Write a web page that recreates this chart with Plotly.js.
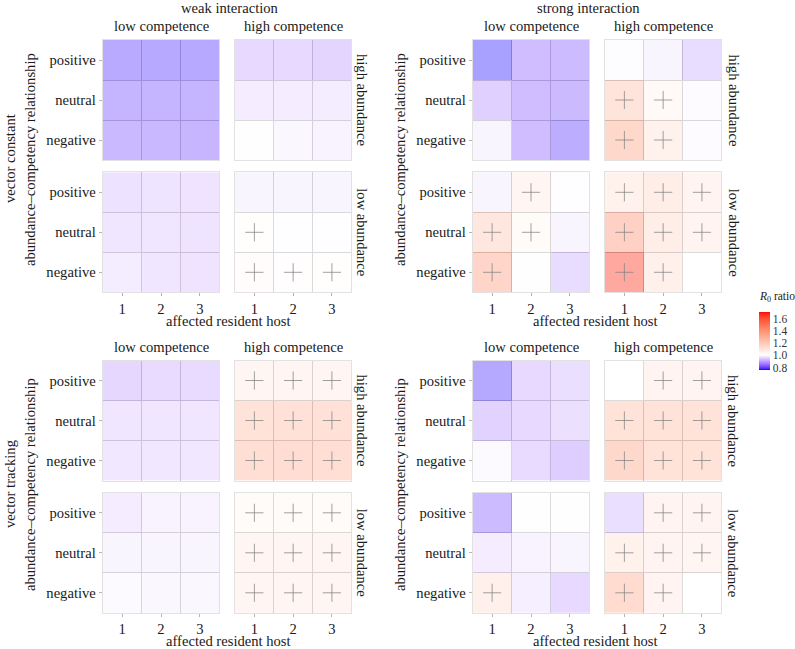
<!DOCTYPE html>
<html>
<head>
<meta charset="utf-8">
<script src="https://cdn.plot.ly/plotly-3.0.1.min.js"></script>
<style>html,body{margin:0;padding:0;background:#fff;}#chart{width:795px;height:649px;}</style>
</head>
<body>
<div id="chart"></div>
<script>
// ---------------- data ----------------
const hosts = [1, 2, 3];
const relationships = ['positive', 'neutral', 'negative'];
const competence = ['low competence', 'high competence'];
const abundance = ['high abundance', 'low abundance'];
const interactions = ['weak interaction', 'strong interaction'];
const vectorModes = ['vector constant', 'vector tracking'];
const yTitleText = 'abundance\u2013competency relationship';
const xTitleText = 'affected resident host';
const colorTicks = [0.8, 1.0, 1.2, 1.4, 1.6];

// rows: positive, neutral, negative ; columns: host 1, 2, 3
const weakConstantLowHigh  = [[0.780, 0.778, 0.778], [0.803, 0.803, 0.803], [0.815, 0.810, 0.807]];
const weakConstantHighHigh = [[0.900, 0.900, 0.890], [0.955, 0.955, 0.950], [0.998, 0.980, 0.970]];
const weakConstantLowLow   = [[0.925, 0.930, 0.928], [0.935, 0.935, 0.930], [0.950, 0.935, 0.928]];
const weakConstantHighLow  = [[0.975, 0.975, 0.975], [1.010, 0.996, 0.996], [1.030, 1.015, 1.010]];

const strongConstantLowHigh  = [[0.765, 0.825, 0.820], [0.875, 0.825, 0.818], [0.975, 0.825, 0.785]];
const strongConstantHighHigh = [[0.992, 0.975, 0.910], [1.250, 1.050, 0.990], [1.360, 1.120, 0.990]];
const strongConstantLowLow   = [[0.975, 1.080, 0.995], [1.220, 1.040, 0.975], [1.380, 0.998, 0.910]];
const strongConstantHighLow  = [[1.120, 1.170, 1.100], [1.420, 1.170, 1.100], [1.680, 1.140, 0.999]];

const weakTrackingLowHigh  = [[0.895, 0.905, 0.905], [0.935, 0.935, 0.935], [0.940, 0.940, 0.940]];
const weakTrackingHighHigh = [[1.080, 1.080, 1.080], [1.270, 1.280, 1.280], [1.300, 1.310, 1.300]];
const weakTrackingLowLow   = [[0.955, 0.970, 0.970], [0.975, 0.975, 0.975], [0.985, 0.980, 0.980]];
const weakTrackingHighLow  = [[1.040, 1.040, 1.040], [1.090, 1.090, 1.090], [1.090, 1.090, 1.090]];

const strongTrackingLowHigh  = [[0.775, 0.900, 0.915], [0.880, 0.900, 0.920], [0.985, 0.905, 0.870]];
const strongTrackingHighHigh = [[0.999, 1.100, 1.100], [1.270, 1.270, 1.270], [1.360, 1.270, 1.270]];
const strongTrackingLowLow   = [[0.820, 0.998, 0.998], [0.955, 0.970, 0.975], [1.140, 0.960, 0.900]];
const strongTrackingHighLow  = [[0.915, 1.100, 1.100], [1.120, 1.100, 1.090], [1.330, 1.100, 0.999]];

// panels[vectorMode][interaction][abundanceRow][competenceCol]
const panels = [
  [ [[weakConstantLowHigh, weakConstantHighHigh], [weakConstantLowLow, weakConstantHighLow]],
    [[strongConstantLowHigh, strongConstantHighHigh], [strongConstantLowLow, strongConstantHighLow]] ],
  [ [[weakTrackingLowHigh, weakTrackingHighHigh], [weakTrackingLowLow, weakTrackingHighLow]],
    [[strongTrackingLowHigh, strongTrackingHighHigh], [strongTrackingLowLow, strongTrackingHighLow]] ]
];
const allValues = panels.flat(3).flat(2);

// ---------------- colour scale limits (white at 1) ----------------
const scaleMin = 0.755, scaleMid = 1.0, scaleMax = 1.71;

// ---------------- Lab colour interpolation (like ggplot gradient2) ----------------
const Xn = 0.95047, Yn = 1.0, Zn = 1.08883;
function s2l(c) { c /= 255; return c <= 0.04045 ? c / 12.92 : Math.pow((c + 0.055) / 1.055, 2.4); }
function l2s(c) { c = Math.max(0, Math.min(1, c)); return c <= 0.0031308 ? 12.92 * c : 1.055 * Math.pow(c, 1 / 2.4) - 0.055; }
function ff(t) { return t > 0.008856 ? Math.cbrt(t) : 7.787 * t + 16 / 116; }
function fi(t) { return t > 0.206893 ? t * t * t : (t - 16 / 116) / 7.787; }
function rgb2lab(rgb) {
  const [r, g, b] = rgb.map(s2l);
  const X = 0.4124 * r + 0.3576 * g + 0.1805 * b;
  const Y = 0.2126 * r + 0.7152 * g + 0.0722 * b;
  const Z = 0.0193 * r + 0.1192 * g + 0.9505 * b;
  const fx = ff(X / Xn), fy = ff(Y / Yn), fz = ff(Z / Zn);
  return [116 * fy - 16, 500 * (fx - fy), 200 * (fy - fz)];
}
function lab2rgb(lab) {
  const [L, a, b] = lab;
  const fy = (L + 16) / 116, fx = fy + a / 500, fz = fy - b / 200;
  const X = Xn * fi(fx), Y = Yn * fi(fy), Z = Zn * fi(fz);
  const r = 3.2406 * X - 1.5372 * Y - 0.4986 * Z;
  const g = -0.9689 * X + 1.8758 * Y + 0.0415 * Z;
  const bb = 0.0557 * X - 0.2040 * Y + 1.0570 * Z;
  return [r, g, bb].map(c => Math.round(255 * l2s(c)));
}
const labLow = rgb2lab([0, 0, 255]), labMid = rgb2lab([255, 255, 255]), labHigh = rgb2lab([255, 0, 0]);
function mix(a, b, t) { return a.map((v, i) => v + (b[i] - v) * t); }
function rgbAt(v) {
  let lab;
  if (v <= scaleMid) lab = mix(labMid, labLow, (scaleMid - v) / (scaleMid - scaleMin));
  else lab = mix(labMid, labHigh, (v - scaleMid) / (scaleMax - scaleMid));
  return lab2rgb(lab);
}
const TILE_ALPHA = 0.4;
const nStops = 60;
const midPos = (scaleMid - scaleMin) / (scaleMax - scaleMin);
const positions = [];
for (let i = 0; i <= nStops; i++) positions.push(i / nStops);
positions.push(midPos);
positions.sort((a, b) => a - b);
// solid scale for the colour bar, translucent scale for the tiles
const solidScale = positions.map(p => [p, 'rgb(' + rgbAt(scaleMin + p * (scaleMax - scaleMin)).join(',') + ')']);
const tileScale = positions.map(p => [p, 'rgba(' + rgbAt(scaleMin + p * (scaleMax - scaleMin)).join(',') + ',' + TILE_ALPHA + ')']);

// ---------------- geometry (pixels) ----------------
const W = 795, H = 649;
const px = x => x / W;
const py = y => 1 - y / H;
const facetX = [[102.7, 219.3], [235, 351.3]];
const facetY = [[40, 160], [172.3, 292.3]];
const panelOffX = [0, 370];
const panelOffY = [0, 320.5];

const FONT = 'Liberation Serif, DejaVu Serif, serif';
const FS = 14.6;
const TXT = '#1a1a1a';

const yPos = relationships.map((_, i) => relationships.length - i);
const xBounds = hosts.slice(1).map((h, i) => (hosts[i] + h) / 2);
const yBounds = yPos.slice(1).map((y, i) => (yPos[i] + y) / 2);

const traces = [];
const layout = {
  width: W, height: H,
  margin: {l: 0, r: 0, t: 0, b: 0},
  paper_bgcolor: '#ffffff', plot_bgcolor: '#ffffff',
  font: {family: FONT, size: FS, color: TXT},
  showlegend: false,
  annotations: []
};

let n = 0;
for (let vm = 0; vm < 2; vm++) {
  for (let it = 0; it < 2; it++) {
    for (let ab = 0; ab < 2; ab++) {
      for (let cp = 0; cp < 2; cp++) {
        n++;
        const xa = 'x' + (n === 1 ? '' : n), ya = 'y' + (n === 1 ? '' : n);
        const xk = 'xaxis' + (n === 1 ? '' : n), yk = 'yaxis' + (n === 1 ? '' : n);
        const z = panels[vm][it][ab][cp];
        const x0 = facetX[cp][0] + panelOffX[it], x1 = facetX[cp][1] + panelOffX[it];
        const y0 = facetY[ab][0] + panelOffY[vm], y1 = facetY[ab][1] + panelOffY[vm];
        const showX = ab === 1, showY = cp === 0;
        layout[xk] = {
          domain: [px(x0), px(x1)], anchor: ya, range: [0.5, 3.5],
          tickmode: 'array', tickvals: hosts, ticktext: hosts.map(String),
          showticklabels: showX, ticks: showX ? 'outside' : '', ticklen: 3, tickwidth: 1, tickcolor: '#b5b5b5',
          tickfont: {family: FONT, size: FS, color: TXT},
          showgrid: false, zeroline: false,
          showline: true, mirror: true, linecolor: '#e2e2e2', linewidth: 1,
          minor: {tickmode: 'array', tickvals: xBounds, showgrid: true, gridcolor: '#c4c4c4', gridwidth: 1, ticks: ''},
          fixedrange: true
        };
        layout[yk] = {
          domain: [py(y1), py(y0)], anchor: xa, range: [0.5, 3.5],
          tickmode: 'array', tickvals: yPos, ticktext: relationships,
          showticklabels: showY, ticks: showY ? 'outside' : '', ticklen: 3, tickwidth: 1, tickcolor: '#b5b5b5',
          tickfont: {family: FONT, size: FS, color: TXT},
          showgrid: false, zeroline: false,
          showline: true, mirror: true, linecolor: '#e2e2e2', linewidth: 1,
          minor: {tickmode: 'array', tickvals: yBounds, showgrid: true, gridcolor: '#c4c4c4', gridwidth: 1, ticks: ''},
          fixedrange: true
        };
        traces.push({
          type: 'heatmap', xaxis: xa, yaxis: ya,
          x: hosts, y: yPos, z: z,
          zmin: scaleMin, zmax: scaleMax, colorscale: tileScale,
          hoverinfo: 'skip', showscale: false
        });
        // plus markers for R0 ratio above 1
        const pxs = [], pys = [];
        z.forEach((row, i) => row.forEach((v, j) => { if (v > scaleMid) { pxs.push(hosts[j]); pys.push(yPos[i]); } }));
        if (pxs.length) {
          traces.push({
            type: 'scatter', mode: 'markers', xaxis: xa, yaxis: ya, x: pxs, y: pys,
            marker: {symbol: 'cross-thin-open', size: 13, color: 'rgba(130,130,130,0.75)', line: {width: 1, color: 'rgba(130,130,130,0.75)'}},
            hoverinfo: 'skip'
          });
        }
        // competence strip (top of high-abundance row)
        if (ab === 0) {
          layout.annotations.push({
            xref: 'paper', yref: 'paper', x: px((x0 + x1) / 2), y: py(26.5 + panelOffY[vm]),
            xanchor: 'center', yanchor: 'middle', showarrow: false,
            text: competence[cp], font: {family: FONT, size: FS, color: TXT}
          });
        }
        // abundance strip (right)
        if (cp === 1) {
          layout.annotations.push({
            xref: 'paper', yref: 'paper', x: px(it === 0 ? 362 : 733.5), y: py((y0 + y1) / 2),
            xanchor: 'center', yanchor: 'middle', showarrow: false, textangle: 90,
            text: abundance[ab], font: {family: FONT, size: FS, color: TXT}
          });
        }
      }
    }
    // panel-level texts
    const yC = vm === 0 ? 160 : 485;
    layout.annotations.push({
      xref: 'paper', yref: 'paper', x: px(30 + panelOffX[it]), y: py(yC),
      xanchor: 'center', yanchor: 'middle', showarrow: false, textangle: -90,
      text: yTitleText, font: {family: FONT, size: FS, color: TXT}
    });
    layout.annotations.push({
      xref: 'paper', yref: 'paper', x: px(it === 0 ? 228 : 595), y: py(vm === 0 ? 321.3 : 641),
      xanchor: 'center', yanchor: 'middle', showarrow: false,
      text: xTitleText, font: {family: FONT, size: FS, color: TXT}
    });
    if (vm === 0) {
      layout.annotations.push({
        xref: 'paper', yref: 'paper', x: px(it === 0 ? 230 : 588.7), y: py(8.3),
        xanchor: 'center', yanchor: 'middle', showarrow: false,
        text: interactions[it], font: {family: FONT, size: FS, color: TXT}
      });
    }
    if (it === 0) {
      layout.annotations.push({
        xref: 'paper', yref: 'paper', x: px(10), y: py(vm === 0 ? 159 : 484),
        xanchor: 'center', yanchor: 'middle', showarrow: false, textangle: -90,
        text: vectorModes[vm], font: {family: FONT, size: FS, color: TXT}
      });
    }
  }
}

// invisible carrier of the (solid) colour bar
traces.push({
  type: 'scatter', mode: 'markers', xaxis: 'x', yaxis: 'y',
  x: allValues.map(() => hosts[0]), y: allValues.map(() => yPos[0]),
  marker: {
    color: allValues, cmin: scaleMin, cmax: scaleMax, colorscale: solidScale,
    opacity: 0, size: 1, showscale: true,
    colorbar: {
      x: px(759), xanchor: 'left', y: py(341.3), yanchor: 'middle',
      thickness: 11, thicknessmode: 'pixels', len: 57.5, lenmode: 'pixels',
      outlinewidth: 0, xpad: 0, ypad: 0,
      tickmode: 'array', tickvals: colorTicks, ticktext: colorTicks.map(v => v.toFixed(1)),
      ticks: '',
      tickfont: {family: FONT, size: 11.5, color: '#333333'}
    }
  },
  hoverinfo: 'skip'
});

// colour bar title
layout.annotations.push({
  xref: 'paper', yref: 'paper', x: px(757), y: py(297),
  xanchor: 'left', yanchor: 'middle', showarrow: false,
  text: '<i>R</i><sub>0</sub> ratio', font: {family: FONT, size: 11.5, color: TXT}
});

Plotly.newPlot('chart', traces, layout, {staticPlot: true, displayModeBar: false});
</script>
</body>
</html>
